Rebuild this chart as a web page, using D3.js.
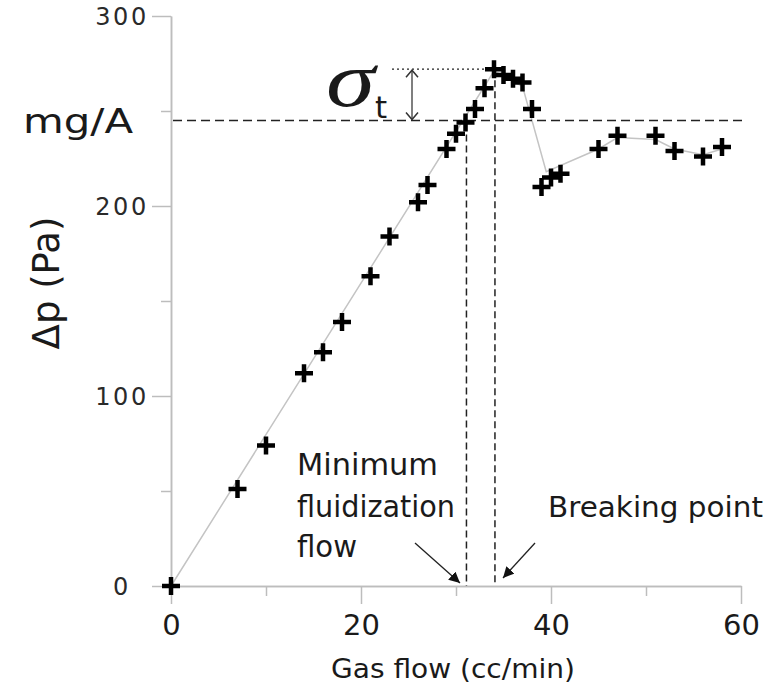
<!DOCTYPE html>
<html>
<head>
<meta charset="utf-8">
<script src="https://cdn.jsdelivr.net/npm/d3@7"></script>
<style>
  body { margin: 0; background: #fff; }
  text { font-family: "DejaVu Sans", sans-serif; fill: #1a1a1a; }
</style>
</head>
<body>
<svg width="783" height="687"></svg>
<script>
// measured points (gas flow in cc/min, pressure drop in Pa)
var flow = [0, 7, 10, 14, 16, 18, 21, 23, 26, 27, 29, 30, 31, 32, 33, 34, 35, 36, 37, 38, 39, 40, 41, 45, 47, 51, 53, 56, 58];
var dp   = [0, 51, 74, 112, 123, 139, 163, 184, 202, 211, 230, 238, 244, 251, 262, 272, 269, 267, 265, 251, 210, 215, 217, 230, 237, 237, 229, 226, 231];

// grey guide line drawn through the points
var trendFlow = [0, 34, 37, 39.5, 45, 47, 51, 53, 56, 58];
var trendDp   = [0, 271, 263, 218, 230, 236, 235, 230, 227, 230];

var xMajor = [0, 20, 40, 60];
var xMinor = [10, 30, 50];
var yMajor = [0, 100, 200, 300];
var yMinor = [50, 150, 250];

var mgA = 245;        // mg/A level
var peak = 272;       // tensile peak
var umf = 31.1;       // minimum fluidization flow
var breakFlow = 34.1; // breaking point

var svg = d3.select("svg");

// scales
var xScale = d3.scaleLinear().domain([0, 60]).range([171, 741]);
var yScale = d3.scaleLinear().domain([0, 300]).range([586, 16]);

// axes
var yAxis = svg.append("g")
    .attr("transform", "translate(171,0)")
    .call(d3.axisLeft(yScale).tickValues(yMajor).tickSize(19).tickSizeOuter(0));
svg.append("g")
    .attr("transform", "translate(171,0)")
    .call(d3.axisLeft(yScale).tickValues(yMinor).tickSize(10).tickSizeOuter(0).tickFormat(""));

var xAxis = svg.append("g")
    .attr("transform", "translate(0,586)")
    .call(d3.axisBottom(xScale).tickValues(xMajor).tickSize(18).tickSizeOuter(0));
svg.append("g")
    .attr("transform", "translate(0,586)")
    .call(d3.axisBottom(xScale).tickValues(xMinor).tickSize(10).tickSizeOuter(0).tickFormat(""));

svg.selectAll(".domain, .tick line")
    .attr("stroke", "#bdbdbd")
    .attr("stroke-width", 1.5);

yAxis.selectAll("text")
    .attr("x", -49)
    .attr("dy", "0.36em")
    .attr("text-anchor", "middle")
    .style("font-size", "24px")
    .style("letter-spacing", "2.5px")
    .style("fill", "#2a2a2a")
    .style("font-family", "DejaVu Sans");

xAxis.selectAll("text")
    .attr("y", 49)
    .attr("dy", null)
    .style("font-size", "29px")
    .style("fill", "#1a1a1a")
    .style("font-family", "DejaVu Sans");

// grey line
var line = d3.line()
    .x(function(d) { return xScale(d[0]); })
    .y(function(d) { return yScale(d[1]); });

svg.append("path")
    .datum(d3.zip(trendFlow, trendDp))
    .attr("d", line)
    .attr("fill", "none")
    .attr("stroke", "#c4c4c4")
    .attr("stroke-width", 1.5);

// mg/A dashed level
svg.append("line")
    .attr("x1", xScale(0) + 2).attr("x2", xScale(60) + 6)
    .attr("y1", yScale(mgA)).attr("y2", yScale(mgA))
    .attr("stroke", "#222").attr("stroke-width", 1.5)
    .attr("stroke-dasharray", "9,5");

// peak dotted level
svg.append("line")
    .attr("x1", 392).attr("x2", xScale(breakFlow))
    .attr("y1", yScale(peak)).attr("y2", yScale(peak))
    .attr("stroke", "#222").attr("stroke-width", 1.3)
    .attr("stroke-dasharray", "2,3");

// vertical dashed lines
svg.append("line")
    .attr("x1", xScale(umf)).attr("x2", xScale(umf))
    .attr("y1", yScale(mgA) + 3).attr("y2", yScale(0))
    .attr("stroke", "#222").attr("stroke-width", 1.5)
    .attr("stroke-dasharray", "7,4");
svg.append("line")
    .attr("x1", xScale(breakFlow)).attr("x2", xScale(breakFlow))
    .attr("y1", yScale(peak)).attr("y2", yScale(0))
    .attr("stroke", "#222").attr("stroke-width", 1.5)
    .attr("stroke-dasharray", "7,4");

// double arrow for sigma_t
var ax = 412;
svg.append("line")
    .attr("x1", ax).attr("x2", ax)
    .attr("y1", yScale(peak) + 1).attr("y2", yScale(mgA) - 1)
    .attr("stroke", "#555").attr("stroke-width", 1.5);
svg.append("path")
    .attr("d", "M" + (ax - 6) + "," + (yScale(peak) + 8) + "L" + ax + "," + (yScale(peak) + 1) + "L" + (ax + 6) + "," + (yScale(peak) + 8)
             + "M" + (ax - 6) + "," + (yScale(mgA) - 8) + "L" + ax + "," + (yScale(mgA) - 1) + "L" + (ax + 6) + "," + (yScale(mgA) - 8))
    .attr("fill", "none").attr("stroke", "#333").attr("stroke-width", 1.5);

// annotation arrows
svg.append("defs").append("marker")
    .attr("id", "head")
    .attr("viewBox", "0 0 10 10")
    .attr("refX", 10).attr("refY", 5)
    .attr("markerWidth", 11).attr("markerHeight", 11)
    .attr("markerUnits", "userSpaceOnUse")
    .attr("orient", "auto")
  .append("path")
    .attr("d", "M0,0L10,5L0,10z")
    .attr("fill", "#111");

svg.append("line")
    .attr("x1", 415).attr("y1", 543).attr("x2", 460).attr("y2", 583)
    .attr("stroke", "#222").attr("stroke-width", 1.3)
    .attr("marker-end", "url(#head)");
svg.append("line")
    .attr("x1", 535).attr("y1", 543).attr("x2", 503).attr("y2", 578)
    .attr("stroke", "#222").attr("stroke-width", 1.3)
    .attr("marker-end", "url(#head)");

// plus markers
svg.selectAll(".pt")
  .data(d3.zip(flow, dp))
  .enter()
  .append("path")
    .attr("class", "pt")
    .attr("transform", function(d) { return "translate(" + xScale(d[0]) + "," + yScale(d[1]) + ")"; })
    .attr("d", "M-9,0H9M0,-9V9")
    .attr("stroke", "#000")
    .attr("stroke-width", 4.5);

// texts
function label(x, y, txt, size, len) {
  var t = svg.append("text")
      .attr("x", x).attr("y", y)
      .style("font-size", size + "px")
      .text(txt);
  if (len) t.attr("textLength", len).attr("lengthAdjust", "spacingAndGlyphs");
  return t;
}

label(23, 133, "mg/A", 34, 110);
label(297, 475, "Minimum", 30, 141);
label(297, 517, "fluidization", 30, 158);
label(297, 557, "flow", 30, 60);
label(548, 517, "Breaking point", 29, 215);
label(331, 678, "Gas flow (cc/min)", 27, 244);

svg.append("text")
    .attr("x", 326).attr("y", 106)
    .attr("textLength", 49)
    .attr("lengthAdjust", "spacingAndGlyphs")
    .style("font-family", "Liberation Serif, serif")
    .style("font-style", "italic")
    .style("font-size", "78px")
    .text("σ");
label(375, 118, "t", 31);

svg.append("text")
    .attr("transform", "translate(59,283) rotate(-90)")
    .attr("text-anchor", "middle")
    .style("font-size", "37px")
    .text("Δp (Pa)");
</script>
</body>
</html>
